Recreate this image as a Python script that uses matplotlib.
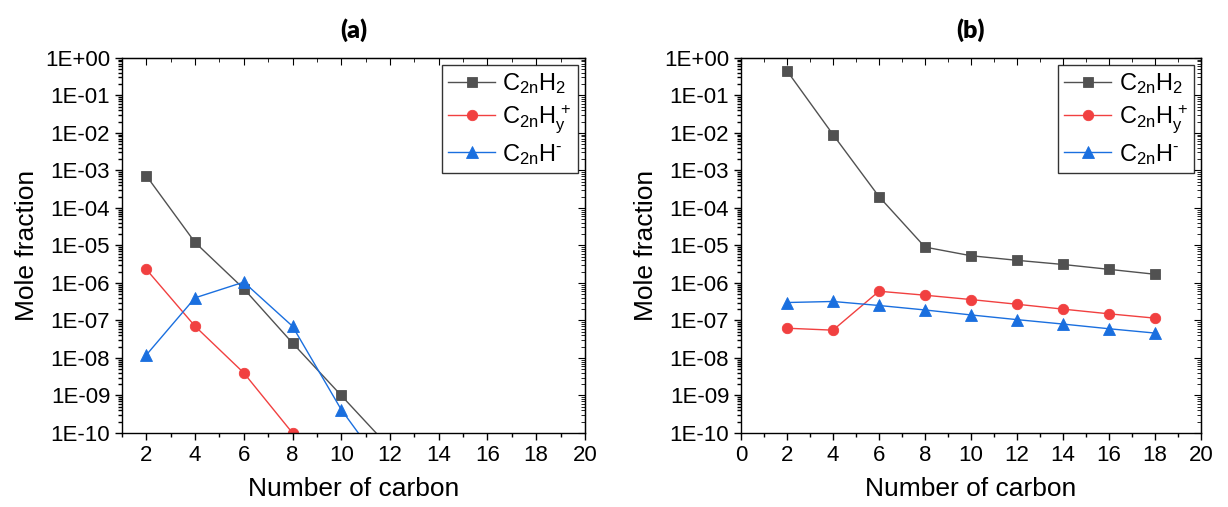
import numpy as np
import matplotlib
matplotlib.use("Agg")
import matplotlib.pyplot as plt
from matplotlib.ticker import FuncFormatter, LogLocator, MultipleLocator, NullFormatter

plt.rcParams['font.family'] = ['Liberation Sans', 'DejaVu Sans']
plt.rcParams['mathtext.fontset'] = 'custom'
plt.rcParams['mathtext.rm'] = 'Liberation Sans'
plt.rcParams['mathtext.it'] = 'Liberation Sans'

# panel (a)
carbon_a = [2, 4, 6, 8, 10, 12]
c2nh2_a = [7.2e-4, 1.2e-5, 7.0e-7, 2.5e-8, 1.0e-9, 4.0e-11]
c2nhy_a = [2.3e-6, 7.0e-8, 4.0e-9, 1.0e-10, 3.0e-12]
c2nh_a = [1.2e-8, 4.0e-7, 1.05e-6, 7.0e-8, 4.2e-10, 7.0e-12]

# panel (b)
carbon_b = [2, 4, 6, 8, 10, 12, 14, 16, 18]
c2nh2_b = [4.5e-1, 9.0e-3, 2.0e-4, 9.0e-6, 5.3e-6, 4.0e-6, 3.1e-6, 2.3e-6, 1.7e-6]
c2nhy_b = [6.2e-8, 5.5e-8, 6.0e-7, 4.7e-7, 3.6e-7, 2.7e-7, 2.0e-7, 1.5e-7, 1.15e-7]
c2nh_b = [3.0e-7, 3.2e-7, 2.5e-7, 1.9e-7, 1.4e-7, 1.05e-7, 8.0e-8, 6.0e-8, 4.6e-8]

labels = [r'$\mathrm{C_{2n}H_2}$', r'$\mathrm{C_{2n}H_y^{\,+}}$', '$\\mathrm{C_{2n}H^{\u2010}}$']
colors = ['#515151', '#F14040', '#1A6FDF']
markers = ['s', 'o', '^']
msizes = [6.5, 7.5, 8]


def style_axes(ax, xmin):
    ax.set_yscale('log')
    ax.set_ylim(1e-10, 1)
    ax.set_xlim(xmin, 20)
    ax.xaxis.set_major_locator(MultipleLocator(2))
    ax.xaxis.set_minor_locator(MultipleLocator(1))
    ax.yaxis.set_major_locator(LogLocator(base=10, numticks=20))
    ax.yaxis.set_minor_locator(LogLocator(base=10, subs=np.arange(2, 10), numticks=20))
    ax.yaxis.set_minor_formatter(NullFormatter())
    ax.yaxis.set_major_formatter(FuncFormatter(
        lambda v, p: "1E{:+03d}".format(int(round(np.log10(v))))))
    ax.tick_params(which='both', direction='out', top=False, right=False,
                   labelsize=16, width=1)
    ax.tick_params(which='major', length=5)
    ax.tick_params(which='minor', length=3)
    for s in ax.spines.values():
        s.set_linewidth(1.0)
    # mirrored ticks pointing inward on top and right
    sx = ax.secondary_xaxis('top')
    sx.xaxis.set_major_locator(MultipleLocator(2))
    sx.xaxis.set_minor_locator(MultipleLocator(1))
    sx.tick_params(which='both', direction='in', labeltop=False)
    sx.tick_params(which='major', length=5)
    sx.tick_params(which='minor', length=3)
    sy = ax.secondary_yaxis('right')
    sy.yaxis.set_major_locator(LogLocator(base=10, numticks=20))
    sy.yaxis.set_minor_locator(LogLocator(base=10, subs=np.arange(2, 10), numticks=20))
    sy.tick_params(which='both', direction='in', labelright=False)
    sy.tick_params(which='major', length=5)
    sy.tick_params(which='minor', length=3)
    ax.set_xlabel('Number of carbon', fontsize=19, labelpad=8)
    ax.set_ylabel('Mole fraction', fontsize=19, labelpad=4)


fig = plt.figure(figsize=(12.28, 5.07), dpi=100)
ax1 = fig.add_axes([0.0993, 0.146, 0.377, 0.740])
ax2 = fig.add_axes([0.6034, 0.146, 0.3746, 0.740])

series_a = [(carbon_a, c2nh2_a), (carbon_a[:len(c2nhy_a)], c2nhy_a), (carbon_a, c2nh_a)]
series_b = [(carbon_b, c2nh2_b), (carbon_b, c2nhy_b), (carbon_b, c2nh_b)]

for ax, series, xmin, title in [(ax1, series_a, 1, '(a)'), (ax2, series_b, 0, '(b)')]:
    for (x, y), lab, c, m, ms in zip(series, labels, colors, markers, msizes):
        ax.plot(x, y, color=c, marker=m, markersize=ms, linewidth=1.0,
                markeredgewidth=0.6, markeredgecolor=c, label=lab)
    style_axes(ax, xmin)
    ax.set_title(title, fontsize=18, fontweight='heavy', family=['Lato', 'DejaVu Sans'], pad=14)
    leg = ax.legend(loc='upper right', fontsize=17, frameon=True, fancybox=False,
                    edgecolor='black', borderpad=0.25, labelspacing=0.3,
                    handlelength=2.0, handletextpad=0.3, borderaxespad=0.3)
    leg.get_frame().set_linewidth(1.0)

fig.savefig('out.png', dpi=100)
